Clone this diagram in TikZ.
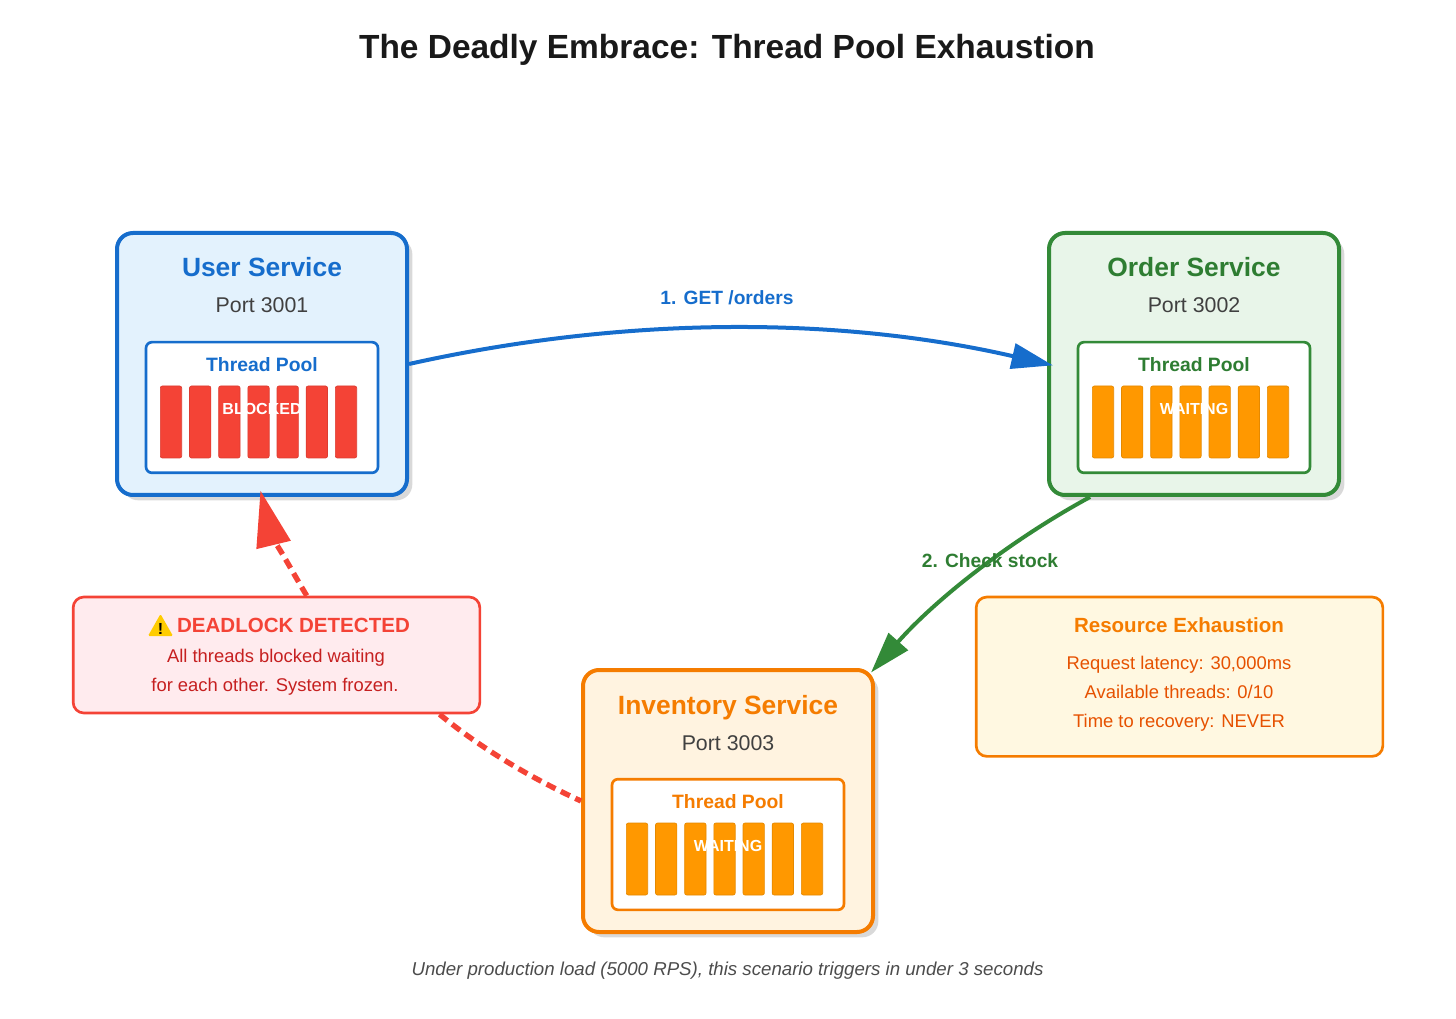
\documentclass[tikz,border=0pt]{standalone}
\usepackage{fontspec}
\setmainfont{Liberation Sans}
\usetikzlibrary{arrows.meta,shadows}

\definecolor{userblue}{HTML}{166DCC}
\definecolor{userfill}{HTML}{E3F2FD}
\definecolor{ordergreen}{HTML}{338A38}
\definecolor{ordertext}{HTML}{2E7D32}
\definecolor{orderfill}{HTML}{E8F5E9}
\definecolor{invorange}{HTML}{F57C00}
\definecolor{invfill}{HTML}{FFF3E0}
\definecolor{alertred}{HTML}{F44336}
\definecolor{alertfill}{HTML}{FFEBEE}
\definecolor{alerttext}{HTML}{C62020}
\definecolor{warnyellow}{HTML}{FFCC00}
\definecolor{waitorange}{HTML}{FF9800}
\definecolor{resfill}{HTML}{FFF8E1}
\definecolor{restext}{HTML}{E65100}

\tikzset{
  servicebox/.style={draw,line width=3pt,rounded corners=12pt,minimum width=217.5pt,minimum height=196.5pt,
    drop shadow={shadow xshift=4pt,shadow yshift=-4pt,fill=black!15,opacity=1}},
  poolbox/.style={draw,fill=white,line width=2pt,rounded corners=4.5pt,minimum width=174pt,minimum height=98pt},
  threadbar/.style={draw=#1!90!black,fill=#1,line width=0.5pt,rounded corners=1.5pt,minimum width=16pt,minimum height=54pt,inner sep=0pt},
  infobox/.style={draw,line width=2pt,rounded corners=8pt,minimum width=305pt},
  flowarrow/.style={line width=3pt,shorten >=-4.5pt,-{Triangle[length=31pt,width=19pt]}},
  deadarrow/.style={draw=alertred,line width=4pt,dash pattern=on 7.5pt off 4.5pt},
  titletext/.style={anchor=base,font=\bfseries\fontsize{25.1}{30}\selectfont},
  servicetext/.style={anchor=base,font=\bfseries\fontsize{19.8}{24}\selectfont},
  porttext/.style={anchor=base,font=\fontsize{16}{18}\selectfont,text=black!75},
  pooltext/.style={anchor=base,font=\bfseries\fontsize{14.5}{16}\selectfont},
  statetext/.style={anchor=base,text=white,font=\bfseries\fontsize{12}{14}\selectfont},
  edgetext/.style={anchor=base,font=\bfseries\fontsize{14.4}{16}\selectfont},
  infohead/.style={anchor=base,font=\bfseries\fontsize{15.4}{18}\selectfont},
  infoline/.style={anchor=base,font=\fontsize{13.8}{15}\selectfont},
  foottext/.style={anchor=base,text=black!70,font=\itshape\fontsize{14}{15}\selectfont},
}

\begin{document}
\begin{tikzpicture}[x=0.75pt,y=-0.75pt]
    \useasboundingbox (0,0) rectangle (1456,1019);

    % Title
    \node (title) at (727,58.5) [titletext,text=black!90] {The Deadly Embrace: Thread Pool Exhaustion};

    % User service
    \node (user) at (262,364) [servicebox,draw=userblue,fill=userfill] {};
    \node (username) at (262,277) [servicetext,text=userblue] {User Service};
    \node (userport) at (262,313) [porttext] {Port 3001};
    \node (userpool) at (262,407.5) [poolbox,draw=userblue] {};
    \node (userpoolname) at (262,371.5) [pooltext,text=userblue] {Thread Pool};
    \foreach \i in {0,...,6}
        \node (userbar\i) at (171+29.17*\i,422) [threadbar=alertred] {};
    \node (userstate) at (262,414.5) [statetext] {BLOCKED};

    % Order service
    \node (order) at (1194,364) [servicebox,draw=ordergreen,fill=orderfill] {};
    \node (ordername) at (1194,277) [servicetext,text=ordertext] {Order Service};
    \node (orderport) at (1194,313) [porttext] {Port 3002};
    \node (orderpool) at (1194,407.5) [poolbox,draw=ordergreen] {};
    \node (orderpoolname) at (1194,371.5) [pooltext,text=ordertext] {Thread Pool};
    \foreach \i in {0,...,6}
        \node (orderbar\i) at (1103+29.17*\i,422) [threadbar=waitorange] {};
    \node (orderstate) at (1194,414.5) [statetext] {WAITING};

    % Inventory service
    \node (inventory) at (728,801) [servicebox,draw=invorange,fill=invfill] {};
    \node (inventoryname) at (728,714) [servicetext,text=invorange] {Inventory Service};
    \node (inventoryport) at (728,750) [porttext] {Port 3003};
    \node (inventorypool) at (728,844.5) [poolbox,draw=invorange] {};
    \node (inventorypoolname) at (728,808.5) [pooltext,text=invorange] {Thread Pool};
    \foreach \i in {0,...,6}
        \node (inventorybar\i) at (637+29.17*\i,859) [threadbar=waitorange] {};
    \node (inventorystate) at (728,851.5) [statetext] {WAITING};

    % Deadlock note
    \node (deadlock) at (276.5,655) [infobox,draw=alertred,fill=alertfill,minimum height=87pt] {};
    \fill[fill=warnyellow,rounded corners=1pt] (160.5,614) -- (173,636) -- (148,636) -- cycle;
    \node (warnmark) at (160.5,634) [anchor=base,font=\bfseries\fontsize{12}{13}\selectfont] {!};
    \node (deadlockhead) at (293.5,632.5) [infohead,text=alertred] {DEADLOCK DETECTED};
    \node (deadlockone) at (276,662.5) [infoline,text=alerttext] {All threads blocked waiting};
    \node (deadlocktwo) at (275,691.5) [infoline,text=alerttext] {for each other. System frozen.};

    % Resource note
    \node (resource) at (1179.5,676.7) [infobox,draw=invorange,fill=resfill,minimum height=119.5pt] {};
    \node (resourcehead) at (1179,632.5) [infohead,text=invorange] {Resource Exhaustion};
    \node (resourceone) at (1179,669) [infoline,text=restext] {Request latency: 30,000ms};
    \node (resourcetwo) at (1179,698.5) [infoline,text=restext] {Available threads: 0/10};
    \node (resourcethree) at (1179,727.5) [infoline,text=restext] {Time to recovery: NEVER};

    % Calls between the services
    \draw[flowarrow,userblue] (user.east) .. controls (624,316) and (838,316) .. (order.west);
    \node (getlabel) at (727,305) [edgetext,text=userblue] {1. GET /orders};
    \draw[flowarrow,ordergreen] (order.232) .. controls (1009,541) and (935,600) .. (inventory.north east);
    \node (stocklabel) at (990,567.5) [edgetext,text=ordertext] {2. Check stock};

    % Deadlock cycle
    \draw[deadarrow] (deadlock.340) .. controls (482,749) and (531,778) .. (inventory.west);
    \draw[deadarrow,-{Triangle[length=42pt,width=25.5pt]},shorten >=-5pt] (deadlock.63) .. controls (290,568) and (270,530) .. (user.south);

    % Footer
    \node (footer) at (727.5,975) [foottext] {Under production load (5000 RPS), this scenario triggers in under 3 seconds};
\end{tikzpicture}
\end{document}
